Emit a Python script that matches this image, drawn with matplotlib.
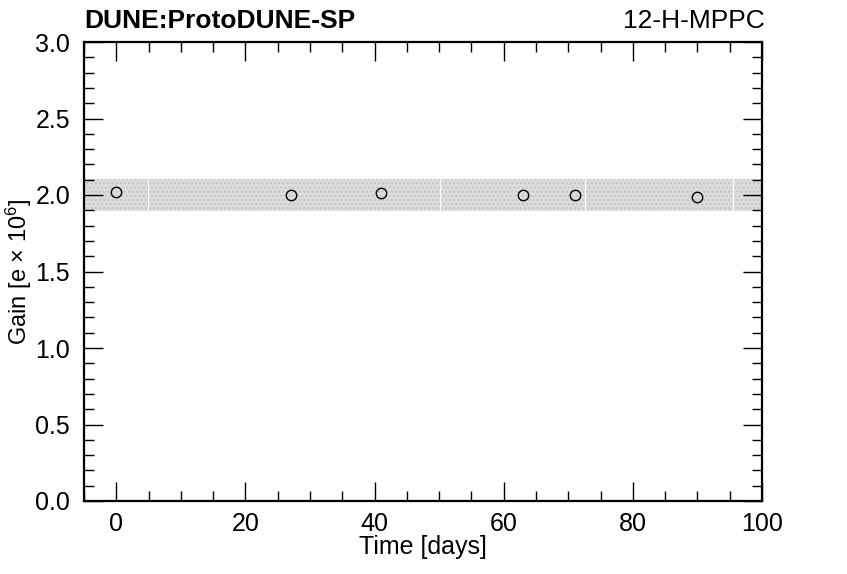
import matplotlib.pyplot as plt
from matplotlib.ticker import MultipleLocator

plt.rcParams['font.family'] = ['Liberation Sans', 'DejaVu Sans']
plt.rcParams['mathtext.fontset'] = 'custom'
plt.rcParams['mathtext.rm'] = 'Liberation Sans'
plt.rcParams['mathtext.it'] = 'Liberation Sans:italic'

# --- Datos ---
days = [0, 27, 41, 63, 71, 90]
gain = [2.02, 2.00, 2.01, 2.00, 2.00, 1.99]
band_lo = 1.895
band_hi = 2.105
band_breaks = [4.9, 50.1, 72.6, 95.5]

fig = plt.figure(figsize=(8.47, 5.74), dpi=100)
ax = fig.add_axes([84 / 847, 1 - 501 / 574, 678 / 847, 459 / 574])

ax.axhspan(band_lo, band_hi, facecolor='#dcdcdc', edgecolor='#c4c4c4',
           hatch='....', linewidth=0, zorder=1)
ax.vlines(band_breaks, band_lo, band_hi, colors='white', linewidth=0.8,
          zorder=2)
ax.plot(days, gain, linestyle='none', marker='o', markersize=7.5,
        markerfacecolor='none', markeredgecolor='black', markeredgewidth=1.0,
        zorder=3)

ax.set_xlim(-5, 100)
ax.set_ylim(0, 3.0)
ax.xaxis.set_major_locator(MultipleLocator(20))
ax.xaxis.set_minor_locator(MultipleLocator(5))
ax.yaxis.set_major_locator(MultipleLocator(0.5))
ax.yaxis.set_minor_locator(MultipleLocator(0.1))
ax.yaxis.set_major_formatter(plt.FuncFormatter(lambda v, _: f"{v:.1f}"))

ax.tick_params(which='both', direction='in', top=True, right=True,
               labelsize=18, width=1.0)
ax.tick_params(which='major', length=14)
ax.tick_params(which='minor', length=7)
ax.tick_params(axis='x', pad=8)
ax.tick_params(axis='y', pad=10)
for sp in ax.spines.values():
    sp.set_linewidth(1.6)

ax.set_xlabel("Time [days]", fontsize=18)
ax.xaxis.set_label_coords(0.5, -0.075)
ax.set_ylabel(r"Gain [e $\times$ 10$^{6}$]", fontsize=17)
ax.yaxis.set_label_coords(-0.074, 0.5)

fig.text(84 / 847, 1 - 21 / 574, "DUNE:ProtoDUNE-SP", fontsize=19,
         fontweight='bold', ha='left', va='center')
fig.text(765 / 847, 1 - 21 / 574, "12-H-MPPC", fontsize=19,
         ha='right', va='center')

fig.savefig('out.png', dpi=100)
